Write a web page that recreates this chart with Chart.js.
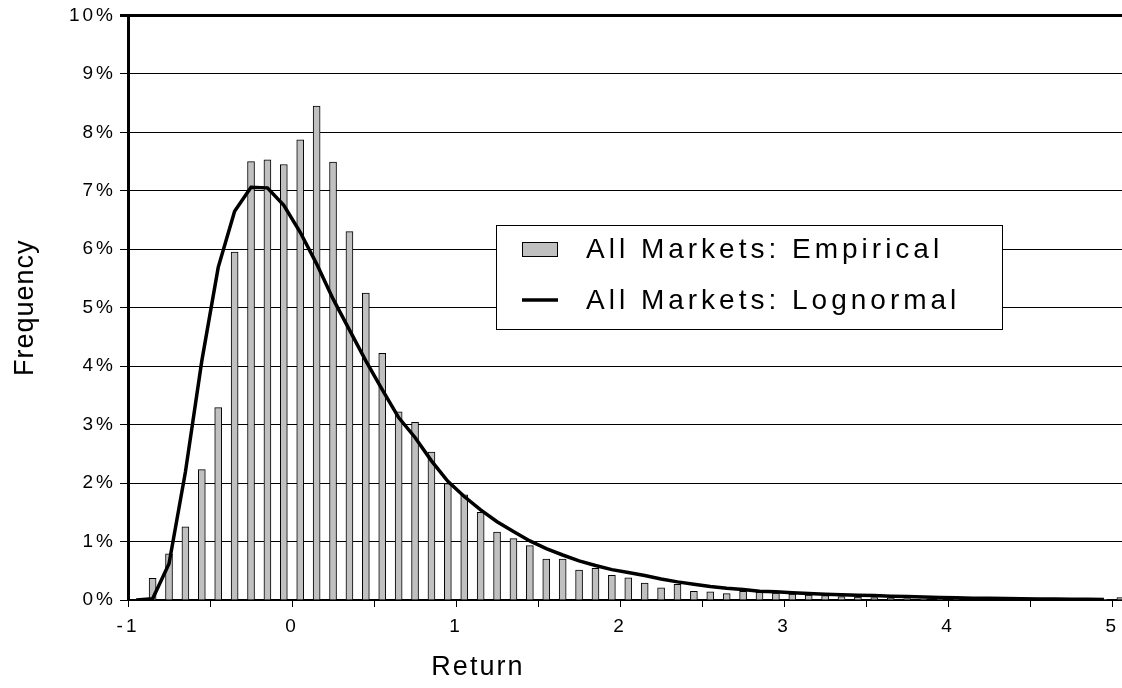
<!DOCTYPE html>
<html>
<head>
<meta charset="utf-8">
<script src="https://cdn.jsdelivr.net/npm/chart.js@4"></script>
<style>
  body { margin: 0; background: #fff; }
  #wrap { width: 1122px; height: 688px; position: relative; }
</style>
</head>
<body>
<div id="wrap"><canvas id="grafico"></canvas></div>
<script>
// bin centres of the return histogram
const bins = [
  -0.95, -0.85, -0.75, -0.65, -0.55, -0.45, -0.35, -0.25, -0.15, -0.05,
  0.05, 0.15, 0.25, 0.35, 0.45, 0.55, 0.65, 0.75, 0.85, 0.95,
  1.05, 1.15, 1.25, 1.35, 1.45, 1.55, 1.65, 1.75, 1.85, 1.95,
  2.05, 2.15, 2.25, 2.35, 2.45, 2.55, 2.65, 2.75, 2.85, 2.95,
  3.05, 3.15, 3.25, 3.35, 3.45, 3.55, 3.65, 3.75, 3.85, 3.95,
  4.05, 4.15, 4.25, 4.35, 4.45, 4.55, 4.65, 4.75, 4.85, 4.95,
  5.05
];

// frequency in %
const empirical = [
  null, 0.37, 0.79, 1.25, 2.23, 3.29, 5.95, 7.50, 7.53, 7.45,
  7.87, 8.45, 7.49, 6.30, 5.25, 4.22, 3.22, 3.04, 2.53, 1.99,
  1.80, 1.50, 1.16, 1.05, 0.93, 0.70, 0.70, 0.51, 0.54, 0.42,
  0.38, 0.29, 0.21, 0.27, 0.15, 0.14, 0.11, 0.15, 0.13, 0.12,
  0.10, 0.085, 0.074, 0.057, 0.05, 0.04, 0.034, 0.023, 0.017, 0.017,
  0.011, 0.01, 0.01, 0.009, 0.008, 0.008, 0.007, 0.006, 0.006, 0.005,
  0.04
];

const lognormal = [
  0, 0.02, 0.62, 2.19, 4.09, 5.69, 6.65, 7.06, 7.05, 6.75,
  6.29, 5.75, 5.15, 4.62, 4.09, 3.60, 3.12, 2.78, 2.38, 2.03,
  1.77, 1.54, 1.34, 1.17, 1.01, 0.88, 0.77, 0.67, 0.59, 0.52,
  0.47, 0.42, 0.36, 0.31, 0.27, 0.23, 0.20, 0.18, 0.15, 0.14,
  0.125, 0.11, 0.10, 0.09, 0.08, 0.075, 0.066, 0.058, 0.05, 0.043,
  0.037, 0.032, 0.028, 0.024, 0.021, 0.018, 0.016, 0.014, 0.012, 0.01,
  null
];

const xTitulo = "Return";
const yTitulo = "Frequency";
const fuente = "'Liberation Sans', Arial, sans-serif";

function puntos(valores){
  return bins.map(function(x, i){ return { x: x, y: valores[i] }; });
}

// letter spacing like the original picture
const espaciado = {
  id: 'espaciado',
  beforeLayout: function(chart){ chart.ctx.letterSpacing = '3px'; },
  beforeDraw: function(chart){ chart.ctx.letterSpacing = '3px'; }
};

// axis titles + legend box drawn inside the plot
const extras = {
  id: 'extras',
  afterDraw: function(chart){
    const ctx = chart.ctx;
    const area = chart.chartArea;
    ctx.save();
    ctx.fillStyle = '#000';

    ctx.letterSpacing = '2px';
    ctx.font = "27px " + fuente;
    ctx.textAlign = 'center';
    ctx.textBaseline = 'alphabetic';
    ctx.fillText(xTitulo, area.left + (area.right - area.left) * 0.352, 675);

    ctx.save();
    ctx.translate(26, (area.top + area.bottom) / 2);
    ctx.rotate(-Math.PI / 2);
    ctx.letterSpacing = '1px';
    ctx.textBaseline = 'middle';
    ctx.fillText(yTitulo, 0, 0);
    ctx.restore();

    // legend
    const bx = 496, by = 225, bw = 506, bh = 104;
    ctx.fillStyle = '#fff';
    ctx.fillRect(bx, by, bw, bh);
    ctx.strokeStyle = '#000';
    ctx.lineWidth = 1;
    ctx.strokeRect(bx + 0.5, by + 0.5, bw, bh);

    const ds = chart.data.datasets;
    ctx.fillStyle = ds[1].backgroundColor;
    ctx.fillRect(522, 242, 35, 14);
    ctx.strokeStyle = ds[1].borderColor;
    ctx.strokeRect(522.5, 242.5, 35, 14);

    ctx.beginPath();
    ctx.strokeStyle = ds[0].borderColor;
    ctx.lineWidth = 3.5;
    ctx.moveTo(522, 300);
    ctx.lineTo(558, 300);
    ctx.stroke();

    ctx.fillStyle = '#000';
    ctx.font = "28px " + fuente;
    ctx.letterSpacing = '4px';
    ctx.textAlign = 'left';
    ctx.textBaseline = 'middle';
    ctx.fillText(ds[1].label, 586, 250);
    ctx.fillText(ds[0].label, 586, 301);
    ctx.restore();
  }
};

new Chart(document.getElementById('grafico'), {
  plugins: [espaciado, extras],
  data: {
    datasets: [
      {
        type: 'line',
        label: 'All Markets: Lognormal',
        data: puntos(lognormal),
        borderColor: '#000',
        borderWidth: 3.5,
        pointRadius: 0,
        tension: 0,
        fill: false,
        order: 0
      },
      {
        type: 'bar',
        label: 'All Markets: Empirical',
        data: puntos(empirical),
        backgroundColor: '#C0C0C0',
        borderColor: '#000',
        borderWidth: 1,
        barThickness: 7,
        order: 1
      }
    ]
  },
  options: {
    responsive: true,
    maintainAspectRatio: false,
    animation: false,
    layout: { padding: { top: 15, right: 0, left: 0, bottom: 0 } },
    plugins: {
      legend: { display: false },
      tooltip: { enabled: false }
    },
    scales: {
      x: {
        type: 'linear',
        offset: false,
        min: -1,
        max: 5.06,
        afterFit: function(s){ s.height = 88; s.paddingLeft = 0; s.paddingRight = 0; },
        ticks: {
          stepSize: 0.5,
          includeBounds: false,
          maxRotation: 0,
          autoSkip: false,
          color: '#000',
          padding: 8,
          font: { family: fuente, size: 19 },
          callback: function(v){ return Number.isInteger(v) ? String(v) : ''; }
        },
        grid: {
          offset: false,
          drawOnChartArea: false,
          drawTicks: true,
          tickLength: 7,
          color: '#000'
        },
        border: { display: true, color: '#000', width: 2 }
      },
      y: {
        min: 0,
        max: 10,
        afterFit: function(s){ s.width = 128; },
        ticks: {
          stepSize: 1,
          color: '#000',
          padding: 4,
          font: { family: fuente, size: 19 },
          callback: function(v){ return v + '%'; }
        },
        grid: {
          color: '#000',
          lineWidth: function(c){ return c.tick && c.tick.value === 10 ? 3 : 1; },
          tickLength: 8
        },
        border: { display: true, color: '#000', width: 3 }
      }
    }
  }
});
</script>
</body>
</html>
